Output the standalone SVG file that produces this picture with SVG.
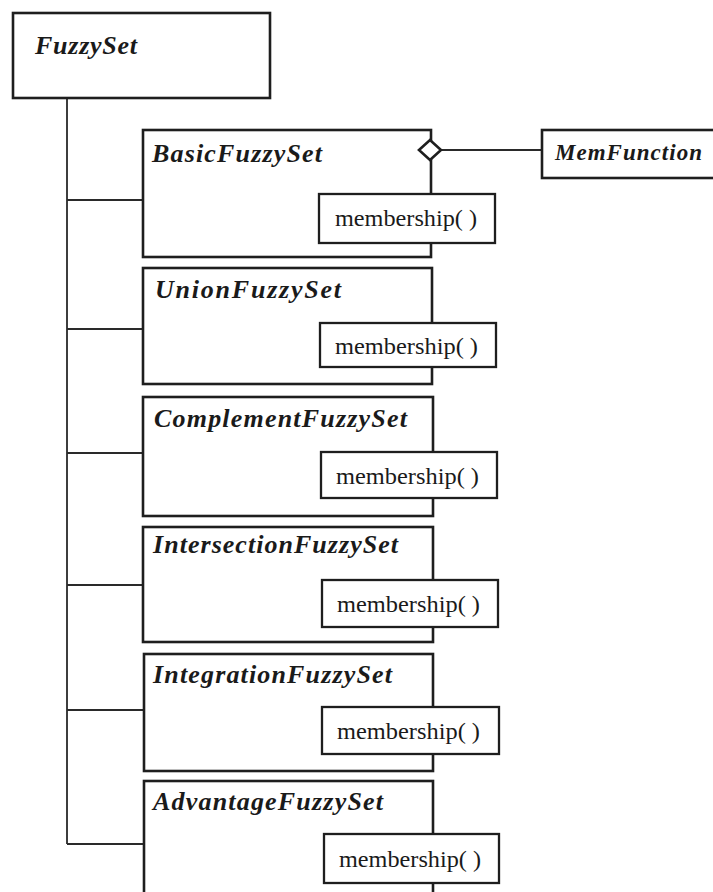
<svg xmlns="http://www.w3.org/2000/svg" width="713" height="892" viewBox="0 0 713 892">
<style>
.box{fill:#fff;stroke:#1e1e1e;stroke-width:2.6}
.mbox{fill:#fff;stroke:#1e1e1e;stroke-width:2.3}
.cn{font-family:"Liberation Serif","Times New Roman",serif;font-weight:bold;font-style:italic;font-size:26px;fill:#1a1a1a}
.mf{font-family:"Liberation Serif","Times New Roman",serif;font-weight:bold;font-style:italic;font-size:23px;fill:#1a1a1a}
.mt{font-family:"Liberation Serif","Times New Roman",serif;font-size:24px;fill:#1a1a1a}
.ln{fill:none;stroke:#2a2a2a;stroke-width:1.8}
</style>
<rect width="713" height="892" fill="#fff"/>
<g id="connectors">
<path class="ln" d="M67 98 V844 M67 200 H143 M67 329 H143 M67 453 H143 M67 585 H143 M67 710 H143 M67 844 H143"/>
<path class="ln" d="M441 150 H542"/>
</g>
<g id="FuzzySet">
<rect class="box" x="13" y="13" width="257" height="85"/>
<text class="cn" x="35" y="54" textLength="102" lengthAdjust="spacing">FuzzySet</text>
</g>
<g id="MemFunction">
<rect class="box" x="542" y="130" width="200" height="48"/>
<text class="mf" x="555" y="160" textLength="147" lengthAdjust="spacing">MemFunction</text>
</g>
<g id="BasicFuzzySet">
<rect class="box" x="143" y="130" width="288" height="127"/>
<text class="cn" x="152" y="162" textLength="170" lengthAdjust="spacing">BasicFuzzySet</text>
<rect class="mbox" x="319" y="194" width="176" height="49"/>
<text class="mt" x="335" y="226" textLength="142" lengthAdjust="spacingAndGlyphs">membership( )</text>
<polygon points="419,150 430,140 441,150 430,160" fill="#fff" stroke="#1e1e1e" stroke-width="2.6"/>
</g>
<g id="UnionFuzzySet">
<rect class="box" x="143" y="268" width="289" height="116"/>
<text class="cn" x="155" y="298" textLength="186" lengthAdjust="spacing">UnionFuzzySet</text>
<rect class="mbox" x="320" y="323" width="176" height="44"/>
<text class="mt" x="335" y="354" textLength="143" lengthAdjust="spacingAndGlyphs">membership( )</text>
</g>
<g id="ComplementFuzzySet">
<rect class="box" x="143" y="397" width="290" height="119"/>
<text class="cn" x="154" y="427" textLength="253" lengthAdjust="spacing">ComplementFuzzySet</text>
<rect class="mbox" x="321" y="452" width="176" height="46"/>
<text class="mt" x="336" y="484" textLength="143" lengthAdjust="spacingAndGlyphs">membership( )</text>
</g>
<g id="IntersectionFuzzySet">
<rect class="box" x="143" y="527" width="290" height="115"/>
<text class="cn" x="153" y="553" textLength="245" lengthAdjust="spacing">IntersectionFuzzySet</text>
<rect class="mbox" x="322" y="580" width="176" height="47"/>
<text class="mt" x="337" y="612" textLength="143" lengthAdjust="spacingAndGlyphs">membership( )</text>
</g>
<g id="IntegrationFuzzySet">
<rect class="box" x="144" y="654" width="289" height="117"/>
<text class="cn" x="153" y="683" textLength="239" lengthAdjust="spacing">IntegrationFuzzySet</text>
<rect class="mbox" x="322" y="707" width="177" height="47"/>
<text class="mt" x="337" y="739" textLength="143" lengthAdjust="spacingAndGlyphs">membership( )</text>
</g>
<g id="AdvantageFuzzySet">
<rect class="box" x="144" y="781" width="289" height="130"/>
<text class="cn" x="153" y="810" textLength="230" lengthAdjust="spacing">AdvantageFuzzySet</text>
<rect class="mbox" x="324" y="834" width="175" height="49"/>
<text class="mt" x="339" y="867" textLength="142" lengthAdjust="spacingAndGlyphs">membership( )</text>
</g>
</svg>
